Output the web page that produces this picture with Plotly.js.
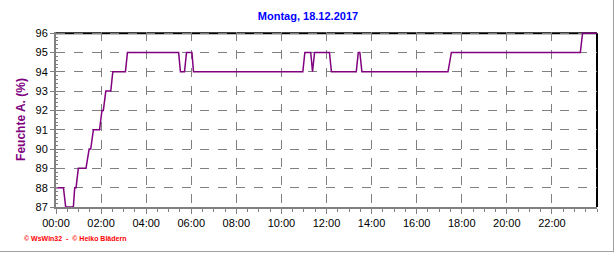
<!DOCTYPE html>
<html>
<head>
<meta charset="utf-8">
<script src="https://cdn.plot.ly/plotly-3.0.1.min.js"></script>
<style>
html,body{margin:0;padding:0;background:#fff;}
#chart{width:616px;height:253px;}
#frame{position:absolute;left:0;top:0;width:613px;height:251px;border-right:1px solid #a0a0a0;border-bottom:1px solid #a0a0a0;pointer-events:none;}
</style>
</head>
<body>
<div id="chart"></div>
<div id="frame"></div>
<script>
// time in hours since midnight
const hours = [0, 0.33, 0.43, 0.77, 0.83, 0.89, 0.99, 1.33, 1.47, 1.54, 1.66, 1.93, 2.04, 2.10, 2.21, 2.43, 2.52, 3.08, 3.17,
  5.44, 5.52, 5.70, 5.79, 6.03, 6.10, 10.95, 11.04, 11.30, 11.38, 11.47, 12.13, 12.22, 13.32, 13.41, 13.48, 13.57,
  17.39, 17.54, 23.26, 23.36, 24];
const humidity = [88, 88, 87, 87, 88, 88, 89, 89, 90, 90, 91, 91, 92, 92, 93, 93, 94, 94, 95,
  95, 94, 94, 95, 95, 94, 94, 95, 95, 94, 95, 95, 94, 94, 95, 95, 94,
  94, 95, 95, 96, 96];
const tickHours = [0, 2, 4, 6, 8, 10, 12, 14, 16, 18, 20, 22];
const tickLabels = ["00:00", "02:00", "04:00", "06:00", "08:00", "10:00", "12:00", "14:00", "16:00", "18:00", "20:00", "22:00"];
const yTicks = [87, 88, 89, 90, 91, 92, 93, 94, 95, 96];

const trace = {
  x: hours, y: humidity, type: 'scatter', mode: 'lines',
  line: {color: '#800080', width: 1.5}, hoverinfo: 'skip'
};

const layout = {
  width: 616, height: 253,
  margin: {l: 56, r: 19, t: 32, b: 46},
  paper_bgcolor: '#ffffff', plot_bgcolor: '#ffffff',
  showlegend: false,
  font: {family: 'Liberation Sans, Arial, sans-serif', size: 11, color: '#000'},
  title: {text: 'Montag, 18.12.2017', font: {family: 'Liberation Sans, Arial, sans-serif', size: 11, color: '#0000ff', weight: 'bold'},
    x: 0.5, xref: 'container', y: 1, yref: 'container', yanchor: 'top', pad: {t: 12}},
  xaxis: {
    range: [0, 24], tickvals: tickHours, ticktext: tickLabels,
    showgrid: true, gridcolor: '#808080', griddash: 'dash', gridwidth: 1,
    showline: true, linecolor: '#808080', linewidth: 2,
    ticks: 'outside', ticklen: 5, tickcolor: '#808080', tickwidth: 1,
    minor: {dtick: 0.5, tick0: 0, ticks: 'outside', ticklen: 3, tickcolor: '#808080', showgrid: false},
    zeroline: false, fixedrange: true
  },
  yaxis: {
    range: [87, 96.06], tickvals: yTicks,
    showgrid: true, gridcolor: '#808080', griddash: 'dash', gridwidth: 1,
    showline: true, linecolor: '#808080', linewidth: 2,
    ticks: 'outside', ticklen: 4, tickcolor: '#808080', tickwidth: 1,
    minor: {dtick: 0.2, tick0: 87, ticks: 'inside', ticklen: 2, tickcolor: '#808080', showgrid: false},
    zeroline: false, fixedrange: true,
    title: {text: 'Feuchte A. (%)', font: {family: 'Liberation Sans, Arial, sans-serif', size: 12, color: '#800080', weight: 'bold'}, standoff: 7}
  },
  shapes: [
    {type: 'line', layer: 'below', xref: 'paper', yref: 'y', x0: 0, x1: 1, y0: 96, y1: 96, line: {color: '#000', width: 2}},
    {type: 'line', layer: 'below', xref: 'paper', yref: 'y', x0: 1, x1: 1, y0: 87, y1: 96, line: {color: '#000', width: 2}}
  ],
  annotations: [
    {text: '© WsWin32  -  © Heiko Blädern', xref: 'paper', yref: 'paper', x: -0.063, y: -0.18, xanchor: 'left', yanchor: 'middle',
      showarrow: false, font: {family: 'Liberation Sans, sans-serif', size: 7, color: '#ff0000', weight: 'bold'}}
  ]
};

Plotly.newPlot('chart', [trace], layout, {displayModeBar: false, staticPlot: true});
</script>
</body>
</html>
